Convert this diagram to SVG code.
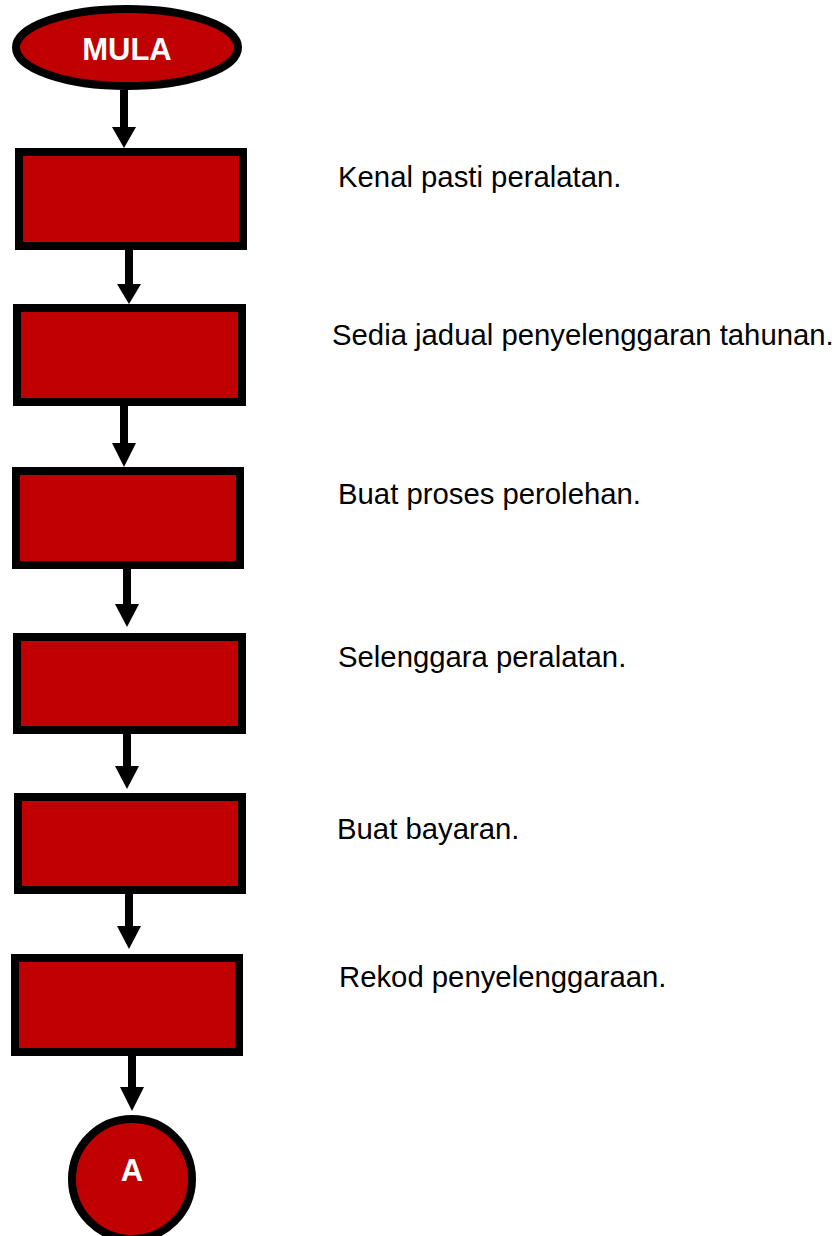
<svg xmlns="http://www.w3.org/2000/svg" width="838" height="1236" viewBox="0 0 838 1236">
<style>
.shape{fill:#C00000;stroke:#000;stroke-width:8}
.lbl{font-family:"Liberation Sans",Arial,sans-serif;font-size:29.3px;fill:#000}
.in{font-family:"Liberation Sans",Arial,sans-serif;font-size:31px;font-weight:bold;fill:#fff;text-anchor:middle}
.shaft{stroke:#000;stroke-width:8;fill:none}
.head{fill:#000}
</style>
<rect width="838" height="1236" fill="#fff"/>
<g id="connectors">
<line class="shaft" x1="124" y1="90" x2="124" y2="130"/><polygon class="head" points="112,127 136,127 124,148"/>
<line class="shaft" x1="129" y1="250" x2="129" y2="287"/><polygon class="head" points="117,284 141,284 129,304"/>
<line class="shaft" x1="124" y1="406" x2="124" y2="445"/><polygon class="head" points="112,443 136,443 124,467"/>
<line class="shaft" x1="127" y1="569" x2="127" y2="606"/><polygon class="head" points="115,604 139,604 127,627"/>
<line class="shaft" x1="127" y1="734" x2="127" y2="768"/><polygon class="head" points="115,766 139,766 127,789"/>
<line class="shaft" x1="129" y1="894" x2="129" y2="928"/><polygon class="head" points="117,926 141,926 129,949"/>
<line class="shaft" x1="132" y1="1056" x2="132" y2="1089"/><polygon class="head" points="120,1087 144,1087 132,1111"/>
</g>
<g id="mula"><ellipse class="shape" cx="127" cy="47.5" rx="111" ry="38.5"/><text class="in" x="127" y="60">MULA</text></g>
<g id="step1"><rect class="shape" x="19" y="152" width="224" height="94"/></g>
<g id="step2"><rect class="shape" x="17" y="308" width="225" height="94"/></g>
<g id="step3"><rect class="shape" x="16" y="471" width="224" height="94"/></g>
<g id="step4"><rect class="shape" x="17" y="637" width="225" height="93"/></g>
<g id="step5"><rect class="shape" x="18" y="797" width="224" height="93"/></g>
<g id="step6"><rect class="shape" x="15" y="958" width="224" height="94"/></g>
<g id="connA"><circle class="shape" cx="132" cy="1179" r="60"/><text class="in" x="132" y="1181">A</text></g>
<g id="labels">
<text class="lbl" x="338" y="187">Kenal pasti peralatan.</text>
<text class="lbl" x="332" y="345">Sedia jadual penyelenggaran tahunan.</text>
<text class="lbl" x="338" y="504">Buat proses perolehan.</text>
<text class="lbl" x="338" y="667">Selenggara peralatan.</text>
<text class="lbl" x="337" y="839">Buat bayaran.</text>
<text class="lbl" x="339" y="987">Rekod penyelenggaraan.</text>
</g>
</svg>
